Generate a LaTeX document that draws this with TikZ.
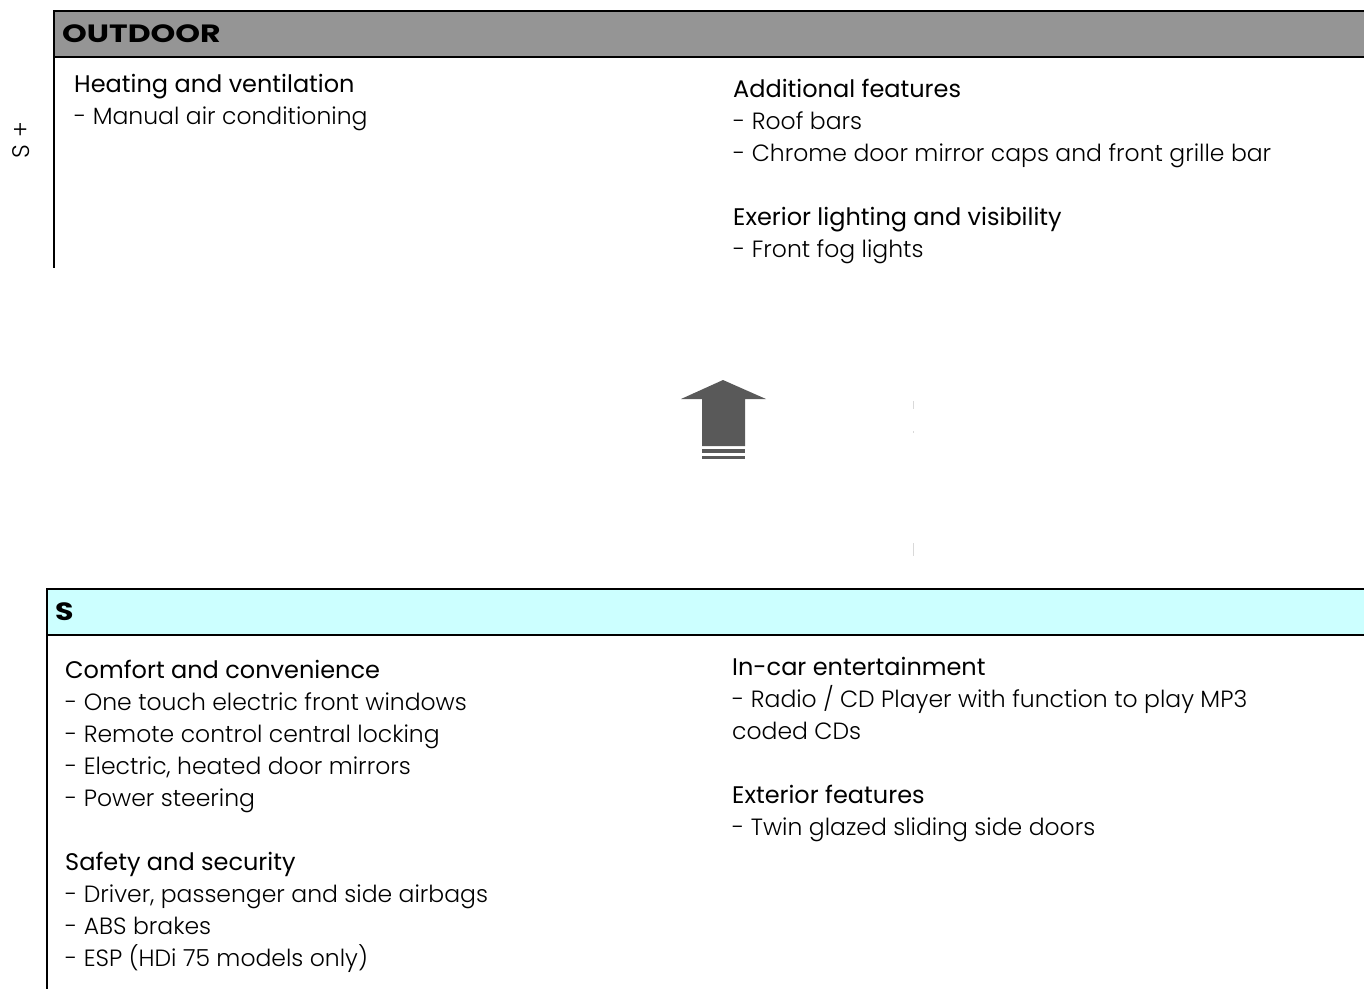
\documentclass[tikz,border=0pt]{standalone}
\usepackage{fontspec}
\setmainfont{Poppins}
\IfFontExistsTF{Poppins Light}
  {\newfontfamily\lightfont{Poppins Light}\def\itemcol{black}}
  {\newfontfamily\lightfont{Poppins}\def\itemcol{black!80}}
\definecolor{hdrgray}{HTML}{959595}
\definecolor{hdrcyan}{HTML}{CCFFFF}
\definecolor{arrowgray}{HTML}{595959}
\begin{document}
\begin{tikzpicture}[x=1pt,y=-1pt,
  hdr/.style={anchor=base west,inner sep=0pt,font=\fontsize{25}{28}\selectfont\bfseries},
  head/.style={anchor=base west,inner sep=0pt,font=\fontsize{24}{26}\selectfont,text=black},
  item/.style={anchor=base west,inner sep=0pt,font=\fontsize{23.5}{26}\selectfont\lightfont,text=\itemcol},
  frame/.style={line width=2pt,draw=black}]
\useasboundingbox (0,0) rectangle (1364,989);
\clip (0,0) rectangle (1364,989);
% OUTDOOR block
\path[fill=hdrgray,frame] (54,11) rectangle (1380,57);
\draw[frame] (54,11) -- (54,268);
\node[hdr] (outdoor) at (62,42) {\scalebox{1.26}[1]{OUTDOOR}};
\node[rotate=90,inner sep=0pt,font=\fontsize{24}{26}\selectfont\lightfont] (side) at (21,140) {S +};
\node[head] (h1) at (74,92) {Heating and ventilation};
\node[item] (i11) at (74,124) {- Manual air conditioning};
\node[head] (h2) at (733,97) {Additional features};
\node[item] (i21) at (733,129) {- Roof bars};
\node[item] (i22) at (733,161) {- Chrome door mirror caps and front grille bar};
\node[head] (h3) at (733,225) {Exerior lighting and visibility};
\node[item] (i31) at (733,257) {- Front fog lights};
% arrow
\fill[arrowgray] (723,380) -- (766,399) -- (745,399) -- (745,446) -- (702,446) -- (702,399) -- (681,399) -- cycle;
\fill[arrowgray] (702,449) rectangle (745,453);
\fill[arrowgray] (702,456) rectangle (745,459);
\draw[black!15,line width=1pt] (913,401) -- (913,409);
\draw[black!15,line width=1pt] (913,431) -- (913,433);
\draw[black!15,line width=1pt] (913,543) -- (913,556);
% S block
\path[fill=hdrcyan,frame] (47,589) rectangle (1380,635);
\draw[frame] (47,589) -- (47,989);
\node[hdr] (sname) at (55,620) {\scalebox{1.2}[1]{S}};
\node[head] (h4) at (65,678) {Comfort and convenience};
\node[item] (i41) at (65,710) {- One touch electric front windows};
\node[item] (i42) at (65,742) {- Remote control central locking};
\node[item] (i43) at (65,774) {- Electric, heated door mirrors};
\node[item] (i44) at (65,806) {- Power steering};
\node[head] (h5) at (65,870) {Safety and security};
\node[item] (i51) at (65,902) {- Driver, passenger and side airbags};
\node[item] (i52) at (65,934) {- ABS brakes};
\node[item] (i53) at (65,966) {- ESP (HDi 75 models only)};
\node[head] (h6) at (732,675) {In-car entertainment};
\node[item] (i61) at (732,707) {- Radio / CD Player with function to play MP3};
\node[item] (i62) at (732,739) {coded CDs};
\node[head] (h7) at (732,803) {Exterior features};
\node[item] (i71) at (732,835) {- Twin glazed sliding side doors};
\end{tikzpicture}
\end{document}
